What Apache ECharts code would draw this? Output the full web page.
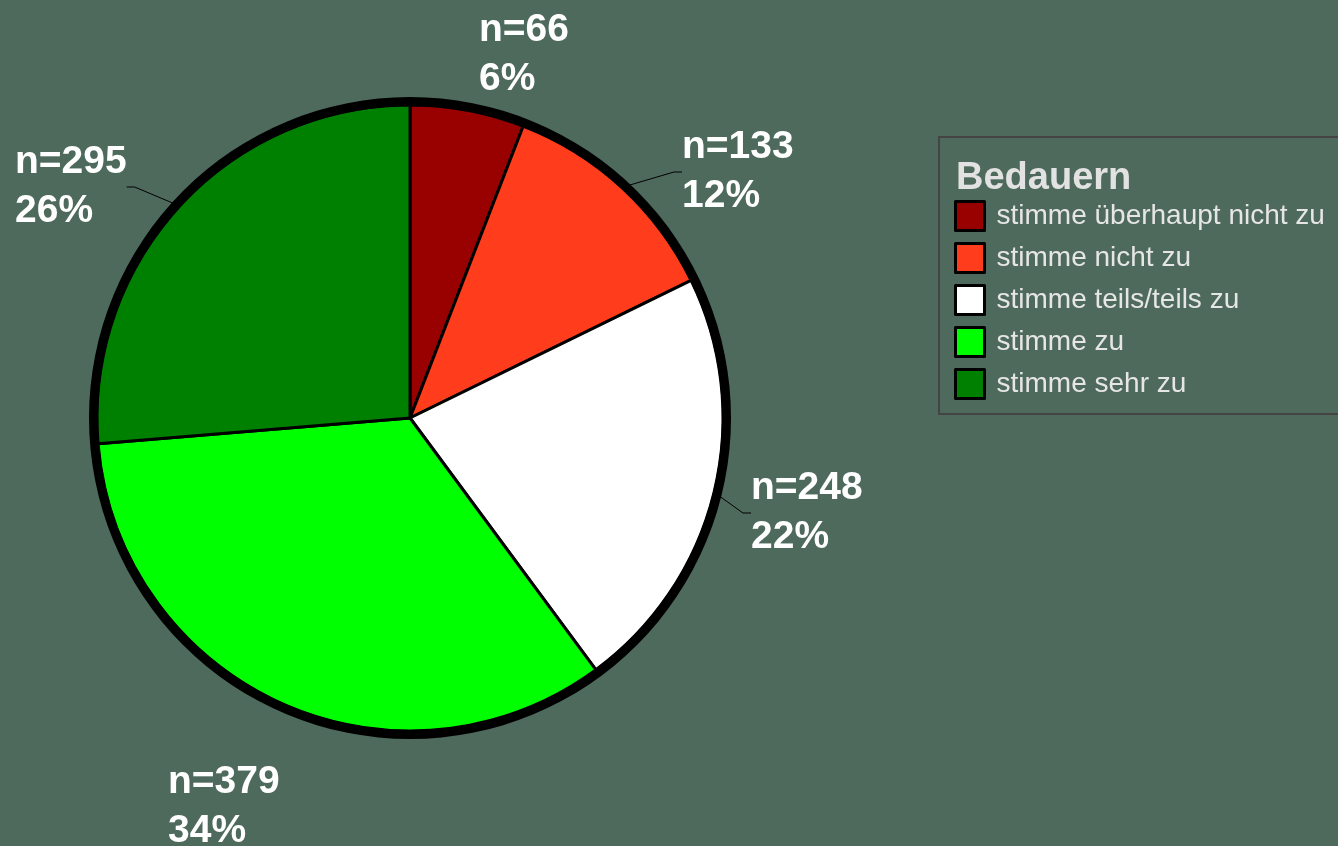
<!DOCTYPE html>
<html>
<head>
<meta charset="utf-8">
<style>
  html, body { margin: 0; padding: 0; background: #4e6a5c; }
  #chart { width: 1338px; height: 846px; }
</style>
<script src="https://cdn.jsdelivr.net/npm/echarts@6/dist/echarts.min.js"></script>
</head>
<body>
<div id="chart"></div>
<script>
const legendTitle = 'Bedauern';
const categories = ['stimme überhaupt nicht zu', 'stimme nicht zu', 'stimme teils/teils zu', 'stimme zu', 'stimme sehr zu'];
const counts = [66, 133, 248, 379, 295];
const colors = ['#990000', '#ff3c1c', '#ffffff', '#00ff00', '#008000'];

// label anchor positions (left x, vertical middle y) in pixels
const labelPos = [[479, 55], [682, 172], [751, 513], [168, 807], [15, 187]];

const chart = echarts.init(document.getElementById('chart'));
const total = counts.reduce((a, b) => a + b, 0);

const pieData = categories.map((name, i) => ({
  name: name,
  value: counts[i],
  itemStyle: { color: colors[i] },
  labelLine: { show: i !== 0 && i !== 3 }
}));

chart.setOption({
  backgroundColor: '#4e6a5c',
  animation: false,
  title: {
    text: legendTitle,
    left: 956,
    top: 160,
    padding: 0,
    textStyle: { color: '#e2e2e2', fontSize: 38, fontWeight: 'bold', fontFamily: 'Liberation Sans, Arial, sans-serif' }
  },
  legend: {
    orient: 'vertical',
    left: 939,
    top: 137,
    padding: [63, 40, 14, 15],
    itemWidth: 29,
    itemHeight: 29,
    itemGap: 10,
    icon: 'rect',
    borderColor: '#444',
    borderWidth: 2,
    selectedMode: false,
    data: categories,
    itemStyle: { borderColor: '#000', borderWidth: 3 },
    textStyle: { color: '#e6e6e6', fontSize: 28, lineHeight: 29, padding: [0, 0, 0, 7], fontFamily: 'Liberation Sans, Arial, sans-serif' }
  },
  series: [
    {
      type: 'pie',
      center: [410, 418],
      radius: [0, 313],
      startAngle: 90,
      clockwise: true,
      silent: true,
      itemStyle: { borderColor: '#000', borderWidth: 3 },
      label: {
        show: true,
        position: 'outside',
        color: '#ffffff',
        fontSize: 39,
        fontWeight: 'bold',
        lineHeight: 49,
        fontFamily: 'Liberation Sans, Arial, sans-serif',
        formatter: p => 'n=' + p.value + '\n' + Math.round(p.value / total * 100) + '%'
      },
      labelLine: { show: true, length: 8, length2: 8, lineStyle: { color: '#000', width: 1 } },
      labelLayout: function (params) {
        const pos = labelPos[params.dataIndex];
        return { x: pos[0], y: pos[1], align: 'left', verticalAlign: 'middle' };
      },
      emphasis: { disabled: true },
      data: pieData,
      z: 2
    },
    {
      type: 'pie',
      center: [410, 418],
      radius: [312, 321],
      silent: true,
      label: { show: false },
      labelLine: { show: false },
      itemStyle: { color: '#000', borderWidth: 0 },
      emphasis: { disabled: true },
      data: [{ value: total, name: '' }],
      z: 3
    }
  ]
});
</script>
</body>
</html>
